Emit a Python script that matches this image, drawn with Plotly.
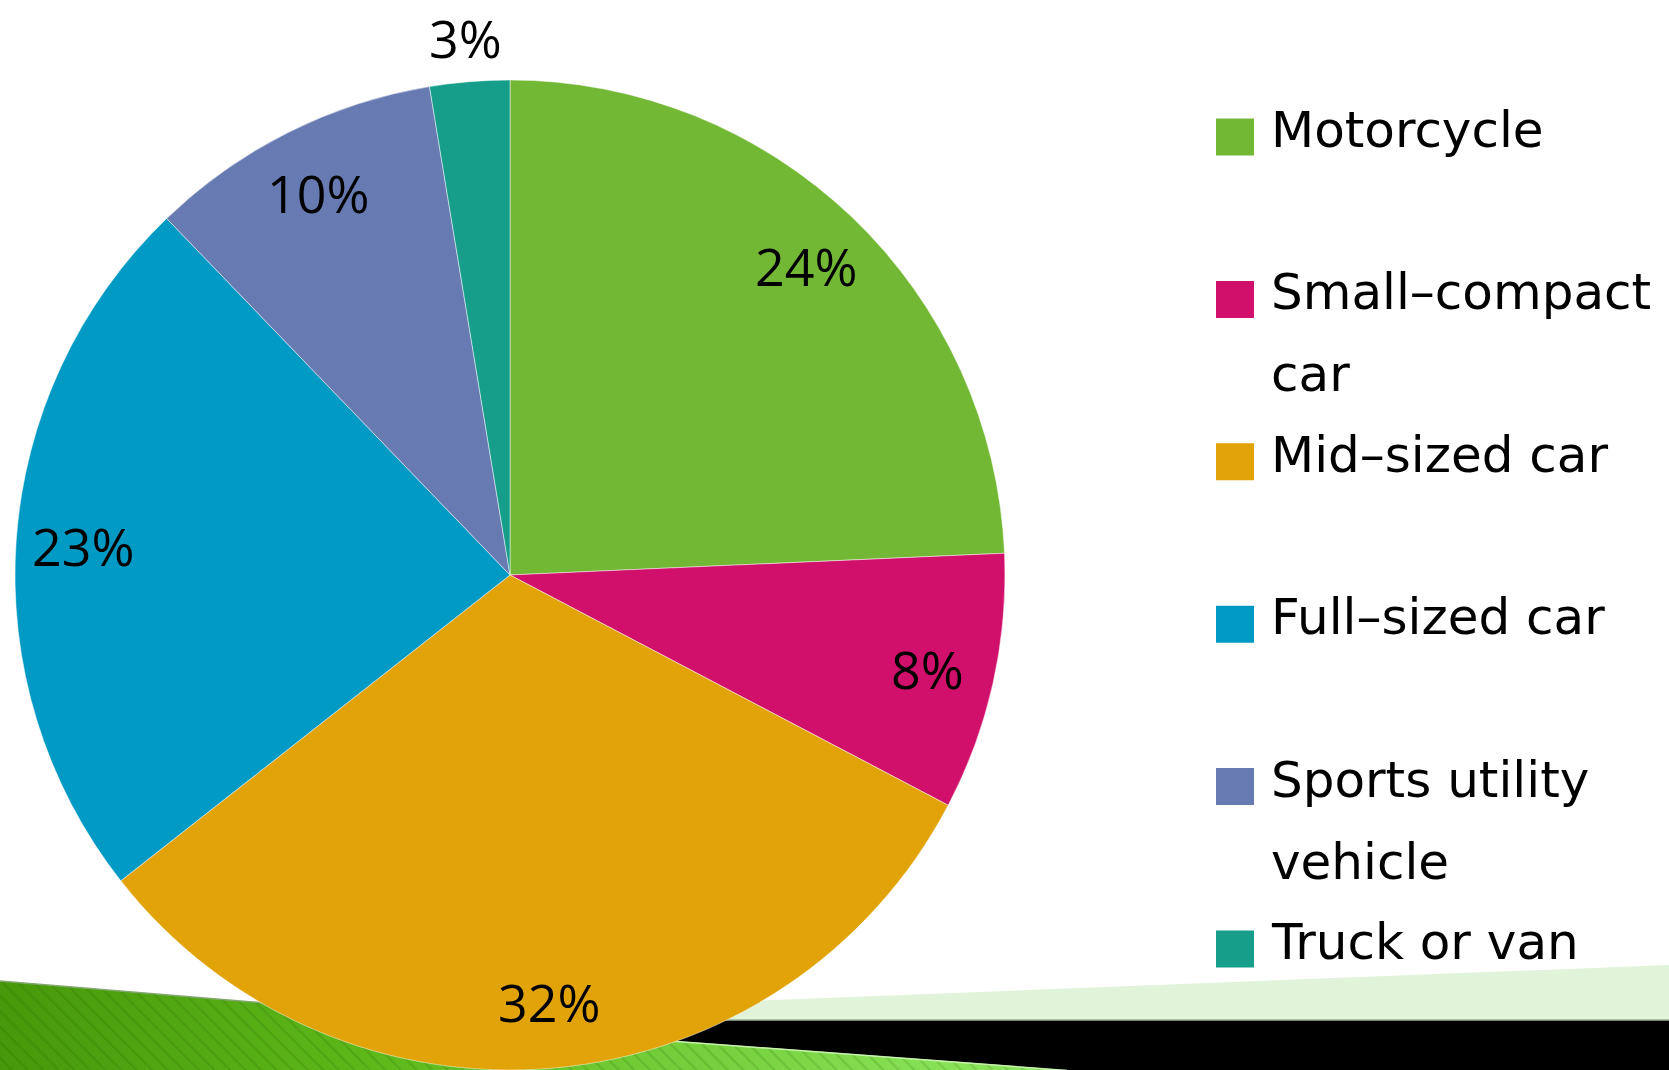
import math
import plotly.graph_objects as go

# ---------------- data ----------------
categories = ["Motorcycle", "Small–compact car", "Mid–sized car",
              "Full–sized car", "Sports utility vehicle", "Truck or van"]
values = [24.3, 8.4, 31.7, 23.4, 9.6, 2.6]
colors = ["#72B834", "#D0106A", "#E1A307", "#009AC4", "#677BB2", "#169E8B"]
legend_lines = [["Motorcycle"], ["Small–compact", "car"], ["Mid–sized car"],
                ["Full–sized car"], ["Sports utility", "vehicle"], ["Truck or van"]]

# ---------------- layout constants ----------------
W, H = 1669, 1070
CX, CY, R = 510, 575, 495          # pie centre / radius in pixels
LABEL_FONT = dict(family="Open Sans", size=52, color="#000000")
LEG_FONT = dict(family="DejaVu Sans", size=50, color="#000000")

fig = go.Figure()

# ---------------- decorative background (bottom band) ----------------
green_x = [0, 1120, 0, 0]
green_y = [981, 1074, 1074, 981]
fig.add_trace(go.Scatter(
    x=green_x, y=green_y, mode="lines", fill="toself",
    line=dict(width=0), hoverinfo="skip",
    fillgradient=dict(type="horizontal", start=0, stop=1060,
                      colorscale=[[0, "#47980A"], [0.35, "#5DB81A"], [1, "#90EA62"]]),
))
fig.add_trace(go.Scatter(
    x=green_x, y=green_y, mode="lines", fill="toself",
    line=dict(width=0), hoverinfo="skip",
    fillcolor="rgba(0,0,0,0)",
    fillpattern=dict(shape="\\", fgcolor="#1F5A00", fgopacity=0.18,
                     bgcolor="rgba(0,0,0,0)", size=11, solidity=0.18),
))
fig.add_trace(go.Scatter(x=[0, 1120], y=[981, 1074], mode="lines",
                         line=dict(color="#84A870", width=1.5), hoverinfo="skip"))
fig.add_trace(go.Scatter(
    x=[480, 1669, 1669, 480, 480], y=[1011.5, 965, 1020, 1020, 1011.5],
    mode="lines", fill="toself", fillcolor="#E1F3D9",
    line=dict(width=0), hoverinfo="skip"))
fig.add_trace(go.Scatter(
    x=[480, 1669, 1669, 1067, 480, 480], y=[1020, 1020, 1074, 1070, 1026.3, 1020],
    mode="lines", fill="toself", fillcolor="#000000",
    line=dict(width=0), hoverinfo="skip"))
fig.add_trace(go.Scatter(x=[480, 1669], y=[1020, 1020], mode="lines",
                         line=dict(color="#9DB08F", width=1.5), hoverinfo="skip"))
fig.add_trace(go.Scatter(x=[480, 1067], y=[1026.8, 1070.5], mode="lines",
                         line=dict(color="#C8F2AE", width=1.5), hoverinfo="skip"))

# ---------------- pie ----------------
fig.add_trace(go.Pie(
    labels=categories, values=values, sort=False, direction="clockwise",
    rotation=0, textinfo="none", hoverinfo="label+percent",
    marker=dict(colors=colors, line=dict(color="rgba(255,255,255,0.8)", width=0.6)),
    domain=dict(x=[(CX - R) / W, (CX + R) / W],
                y=[(H - CY - R) / H, (H - CY + R) / H]),
    showlegend=False,
))

# ---------------- percentage labels ----------------
total = sum(values)
annotations = []
cum = 0.0
for v in values:
    frac = v / total
    mid = (cum + frac / 2) * 2 * math.pi
    cum += frac
    rf = 0.865 if frac >= 0.05 else 1.09
    annotations.append(dict(
        x=CX + rf * R * math.sin(mid), y=CY - rf * R * math.cos(mid),
        xref="x", yref="y", text=f"{round(frac * 100)}%", showarrow=False,
        font=LABEL_FONT, xanchor="center", yanchor="middle"))

# ---------------- legend (manual, to reproduce spacing) ----------------
shapes = []
LEG_Y0, LEG_DY, LINE_DY = 137, 162.4, 82
SQ_X0, SQ_X1, SQ = 1216, 1254, 37
TXT_X = 1269
for i, (lines, col) in enumerate(zip(legend_lines, colors)):
    yc = LEG_Y0 + i * LEG_DY
    shapes.append(dict(type="rect", xref="x", yref="y",
                       x0=SQ_X0, x1=SQ_X1, y0=yc - SQ / 2, y1=yc + SQ / 2,
                       fillcolor=col, line=dict(width=0)))
    for j, ln in enumerate(lines):
        base = yc + 8 + j * LINE_DY
        annotations.append(dict(
            x=TXT_X, y=base - 15, xref="x", yref="y", text=ln, showarrow=False,
            font=LEG_FONT, xanchor="left", yanchor="middle"))

fig.update_layout(
    width=W, height=H, margin=dict(l=0, r=0, t=0, b=0, pad=0),
    paper_bgcolor="#FFFFFF", plot_bgcolor="rgba(0,0,0,0)",
    showlegend=False,
    xaxis=dict(range=[0, W], visible=False, fixedrange=True, domain=[0, 1]),
    yaxis=dict(range=[H, 0], visible=False, fixedrange=True, domain=[0, 1]),
    annotations=annotations, shapes=shapes,
)

fig.write_html("out.html", config={"displayModeBar": False},
               post_script="document.body.style.margin='0';document.body.style.overflow='hidden';")
